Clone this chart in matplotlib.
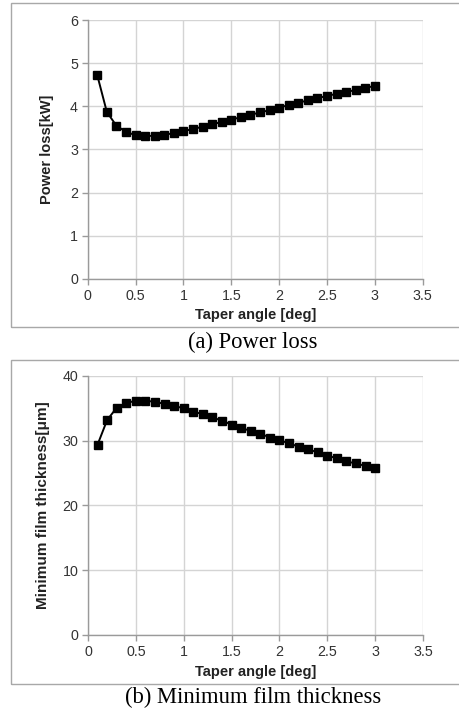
import matplotlib
matplotlib.use("Agg")
import matplotlib.pyplot as plt
from matplotlib.patches import Rectangle

taper_angle = [0.1, 0.2, 0.3, 0.4, 0.5, 0.6, 0.7, 0.8, 0.9, 1.0,
               1.1, 1.2, 1.3, 1.4, 1.5, 1.6, 1.7, 1.8, 1.9, 2.0,
               2.1, 2.2, 2.3, 2.4, 2.5, 2.6, 2.7, 2.8, 2.9, 3.0]
power_loss = [4.72, 3.87, 3.55, 3.41, 3.33, 3.31, 3.32, 3.34, 3.38, 3.43,
              3.47, 3.53, 3.58, 3.64, 3.69, 3.75, 3.80, 3.86, 3.91, 3.97,
              4.03, 4.08, 4.14, 4.19, 4.24, 4.29, 4.33, 4.38, 4.43, 4.47]
film_thickness = [29.4, 33.2, 35.1, 35.8, 36.2, 36.2, 36.0, 35.7, 35.4, 35.0,
                  34.5, 34.1, 33.6, 33.1, 32.5, 32.0, 31.5, 31.1, 30.5, 30.1,
                  29.6, 29.1, 28.7, 28.2, 27.7, 27.3, 26.8, 26.5, 26.1, 25.8]
x_ticks = [0, 0.5, 1, 1.5, 2, 2.5, 3, 3.5]
x_tick_labels = ["0", "0.5", "1", "1.5", "2", "2.5", "3", "3.5"]
y_ticks_a = [0, 1, 2, 3, 4, 5, 6]
y_ticks_b = [0, 10, 20, 30, 40]

W, H = 459, 712
fig = plt.figure(figsize=(W / 100, H / 100), dpi=100)
fig.patch.set_facecolor("white")

def fx(px):
    return px / W

def fy(py):
    return 1 - py / H

sans = ["Liberation Sans", "DejaVu Sans"]
serif = ["Liberation Serif", "DejaVu Serif"]

def panel(frame_top, frame_bot, ax_left, ax_right, ax_top, ax_bot, y, yticks,
          ylabel, ylabel_size, caption, cap_y, xl_y, yl_x):
    # outer frame
    fig.patches.append(Rectangle((fx(11), fy(frame_bot)), fx(470) - fx(11),
                                 fy(frame_top) - fy(frame_bot),
                                 transform=fig.transFigure, fill=False,
                                 edgecolor="#a8a8a8", linewidth=1.0))
    ax = fig.add_axes([fx(ax_left), fy(ax_bot), fx(ax_right) - fx(ax_left),
                       fy(ax_top) - fy(ax_bot)])
    ax.plot(taper_angle, y, color="black", linewidth=1.4, marker="s",
            markersize=5.8, zorder=3)
    ax.set_xlim(0, 3.5)
    ax.set_ylim(yticks[0], yticks[-1])
    ax.set_xticks(x_ticks)
    ax.set_xticklabels(x_tick_labels, fontfamily=sans, fontsize=10.3, color="#333333")
    ax.set_yticks(yticks)
    ax.set_yticklabels([str(v) for v in yticks], fontfamily=sans, fontsize=10.3,
                       color="#333333")
    ax.grid(True, color="#d4d4d4", linewidth=1.0)
    ax.set_axisbelow(True)
    for s in ["top", "right"]:
        ax.spines[s].set_visible(False)
    for s in ["left", "bottom"]:
        ax.spines[s].set_color("#9a9a9a")
        ax.spines[s].set_linewidth(1.0)
    ax.tick_params(axis="both", direction="out", length=4, color="#9a9a9a",
                   width=1.0, pad=3)
    fig.text(fx((ax_left + ax_right) / 2), fy(xl_y), "Taper angle [deg]",
             ha="center", va="center", fontfamily=sans, fontsize=10.5,
             fontweight="bold", color="#222222")
    fig.text(fx(yl_x), fy((ax_top + ax_bot) / 2), ylabel, rotation=90,
             ha="center", va="center", fontfamily=sans, fontsize=ylabel_size,
             fontweight="bold", color="#222222")
    fig.text(fx(253), fy(cap_y), caption, ha="center", va="center",
             fontfamily=serif, fontsize=16.3, color="black")
    return ax

panel(3, 327, 87.7, 422.7, 20, 279, power_loss, y_ticks_a,
      "Power loss[kW]", 10.5, "(a) Power loss", 342, 315, 47)
panel(360, 684, 88, 423, 376, 635, film_thickness, y_ticks_b,
      "Minimum film thickness[\u03bcm]", 11, "(b) Minimum film thickness", 697, 672, 43)

fig.savefig("out.png", dpi=100)
